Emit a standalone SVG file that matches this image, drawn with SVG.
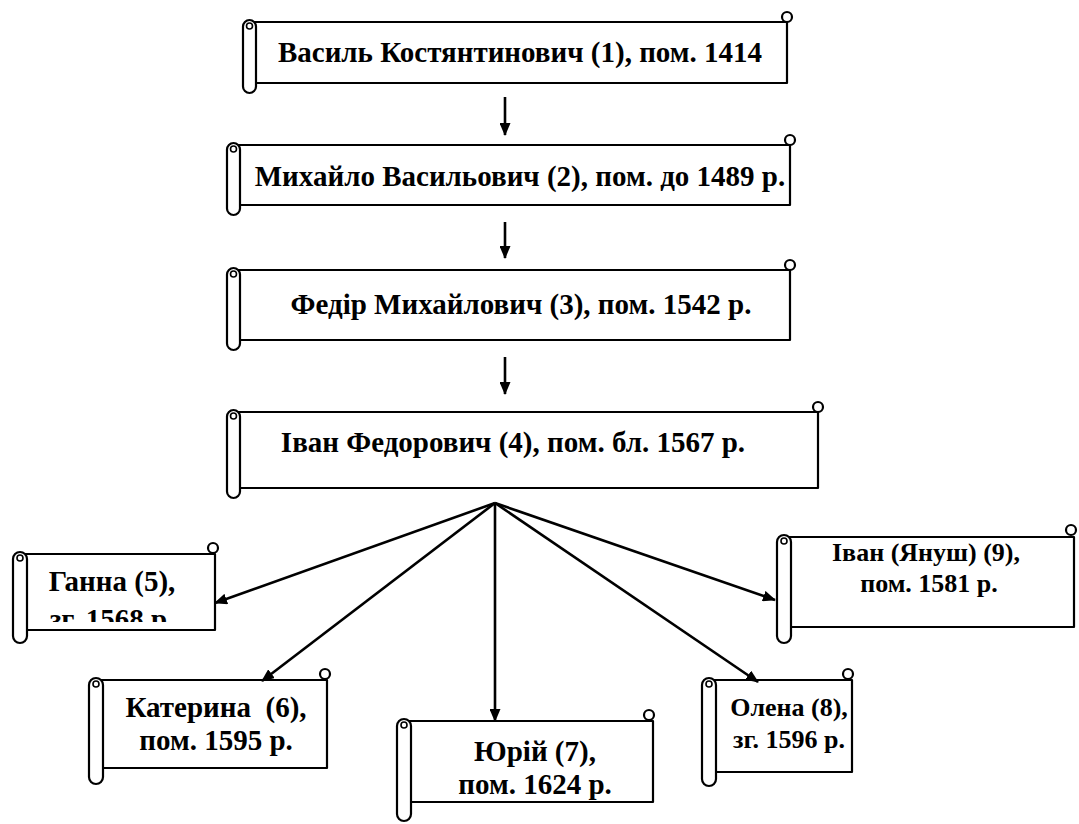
<svg xmlns="http://www.w3.org/2000/svg" width="1079" height="824" viewBox="0 0 1079 824">
<style>
.sh{fill:#fff;stroke:#000;stroke-width:2.2;stroke-linejoin:round}
.ln{fill:none;stroke:#000;stroke-width:1.6}
.t{font-family:'Liberation Serif','DejaVu Serif','Times New Roman',serif;font-weight:bold;font-size:29px;fill:#000;text-anchor:middle}
.s{font-size:26px}
.c{stroke:#000;stroke-width:2.6;fill:none}
</style>
<defs>
<marker id="ah" markerWidth="13" markerHeight="11" refX="12" refY="5.5" orient="auto" markerUnits="userSpaceOnUse">
<path d="M0,0 L13,5.5 L0,11 Z" fill="#000"/>
</marker>
<clipPath id="cg"><rect x="27" y="540" width="190" height="82"/></clipPath>
</defs>
<rect width="1079" height="824" fill="#fff"/>

<g id="n1">
<path class="sh" d="M250,22 H787 V83 H256"/>
<circle class="sh" cx="787" cy="17" r="5"/>
<rect class="sh" x="243" y="20" width="13" height="73" rx="6.5"/>
<circle class="ln" cx="249.5" cy="26" r="3"/>
<text class="t" x="520" y="62">Василь Костянтинович (1), пом. 1414</text>
</g>

<g id="n2">
<path class="sh" d="M234,145 H790 V205 H240"/>
<circle class="sh" cx="790" cy="140" r="5"/>
<rect class="sh" x="227" y="143" width="13" height="72" rx="6.5"/>
<circle class="ln" cx="233.5" cy="149" r="3"/>
<text class="t" x="520" y="186">Михайло Васильович (2), пом. до 1489 р.</text>
</g>

<g id="n3">
<path class="sh" d="M234,270 H790 V340 H240"/>
<circle class="sh" cx="790" cy="265" r="5"/>
<rect class="sh" x="227" y="268" width="13" height="82" rx="6.5"/>
<circle class="ln" cx="233.5" cy="274" r="3"/>
<text class="t" x="521" y="314">Федір Михайлович (3), пом. 1542 р.</text>
</g>

<g id="n4">
<path class="sh" d="M234,412 H818 V488 H240"/>
<circle class="sh" cx="818" cy="407" r="5"/>
<rect class="sh" x="227" y="410" width="13" height="88" rx="6.5"/>
<circle class="ln" cx="233.5" cy="416" r="3"/>
<text class="t" x="513" y="452" font-size="30">Іван Федорович (4), пом. бл. 1567 р.</text>
</g>

<g id="n5">
<path class="sh" d="M19,554 H215 V630 H27"/>
<circle class="sh" cx="213" cy="548" r="5"/>
<rect class="sh" x="13" y="552" width="14" height="91" rx="7"/>
<circle class="ln" cx="20" cy="558" r="3"/>
<g clip-path="url(#cg)">
<text class="t" x="112" y="591">Ганна (5),</text>
<text class="t" x="112" y="629">зг. 1568 р.</text>
</g>
</g>

<g id="n6">
<path class="sh" d="M96,680 H327 V768 H103"/>
<circle class="sh" cx="325" cy="674" r="5"/>
<rect class="sh" x="89" y="678" width="14" height="106" rx="7"/>
<circle class="ln" cx="96" cy="684" r="3"/>
<text class="t" x="216" y="717" xml:space="preserve">Катерина  (6),</text>
<text class="t" x="216" y="750">пом. 1595 р.</text>
</g>

<g id="n7">
<path class="sh" d="M403,721 H653 V802 H411"/>
<circle class="sh" cx="649" cy="715" r="5"/>
<rect class="sh" x="397" y="719" width="14" height="102" rx="7"/>
<circle class="ln" cx="404" cy="725" r="3"/>
<text class="t" x="535" y="761" font-size="30">Юрій (7),</text>
<text class="t" x="535" y="794" font-size="30">пом. 1624 р.</text>
</g>

<g id="n8">
<path class="sh" d="M708,680 H852 V772 H716"/>
<circle class="sh" cx="848" cy="674" r="5"/>
<rect class="sh" x="702" y="678" width="14" height="108" rx="7"/>
<circle class="ln" cx="709" cy="684" r="3"/>
<text class="t s" x="789" y="716">Олена (8),</text>
<text class="t s" x="789" y="748">зг. 1596 р.</text>
</g>

<g id="n9">
<path class="sh" d="M783,537 H1074 V627 H791"/>
<circle class="sh" cx="1071" cy="530" r="5"/>
<rect class="sh" x="777" y="535" width="14" height="108" rx="7"/>
<circle class="ln" cx="784" cy="541" r="3"/>
<text class="t s" x="926" y="561">Іван (Януш) (9),</text>
<text class="t s" x="929" y="592">пом. 1581 р.</text>
</g>

<g id="connectors">
<line class="c" x1="505" y1="97" x2="505" y2="135" marker-end="url(#ah)"/>
<line class="c" x1="505" y1="222" x2="505" y2="258" marker-end="url(#ah)"/>
<line class="c" x1="505" y1="357" x2="505" y2="394" marker-end="url(#ah)"/>
<line class="c" x1="495" y1="503" x2="215" y2="603" marker-end="url(#ah)"/>
<line class="c" x1="495" y1="503" x2="262" y2="681" marker-end="url(#ah)"/>
<line class="c" x1="495" y1="503" x2="495" y2="721" marker-end="url(#ah)"/>
<line class="c" x1="495" y1="503" x2="758" y2="682" marker-end="url(#ah)"/>
<line class="c" x1="495" y1="503" x2="775" y2="600" marker-end="url(#ah)"/>
</g>
</svg>
